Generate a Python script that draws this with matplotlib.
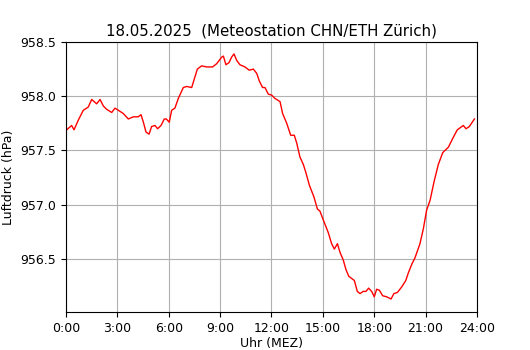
import matplotlib
matplotlib.use("Agg")
import matplotlib.pyplot as plt

# hours since midnight (MEZ) and pressure in hPa
hours = [0.04, 0.33, 0.47, 0.72, 1.01, 1.30, 1.50, 1.79, 1.99, 2.18, 2.37, 2.67,
         2.86, 3.06, 3.35, 3.64, 3.93, 4.22, 4.38, 4.52, 4.67, 4.85, 5.00, 5.20,
         5.35, 5.55, 5.74, 5.86, 6.03, 6.17, 6.36, 6.56, 6.85, 7.05, 7.34, 7.67,
         7.92, 8.21, 8.56, 8.80, 9.09, 9.19, 9.34, 9.52, 9.67, 9.81, 9.97, 10.16,
         10.45, 10.70, 10.94, 11.14, 11.29, 11.48, 11.62, 11.81, 12.01, 12.20,
         12.50, 12.65, 12.89, 13.12, 13.33, 13.47, 13.66, 13.86, 14.00, 14.21,
         14.48, 14.68, 14.83, 15.07, 15.32, 15.51, 15.67, 15.85, 16.00, 16.19,
         16.35, 16.51, 16.84, 17.01, 17.17, 17.36, 17.52, 17.67, 17.85, 18.00,
         18.14, 18.30, 18.49, 18.72, 18.98, 19.15, 19.35, 19.60, 19.84, 19.99,
         20.19, 20.38, 20.67, 20.87, 21.06, 21.26, 21.49, 21.74, 22.00, 22.33,
         22.58, 22.85, 23.11, 23.20, 23.36, 23.55, 23.85]
pressure = [957.69, 957.73, 957.69, 957.78, 957.87, 957.90, 957.97, 957.93, 957.97,
            957.91, 957.88, 957.85, 957.89, 957.87, 957.84, 957.79, 957.81, 957.81,
            957.83, 957.76, 957.67, 957.65, 957.72, 957.73, 957.70, 957.73, 957.79,
            957.79, 957.76, 957.87, 957.89, 957.98, 958.08, 958.09, 958.08, 958.25,
            958.28, 958.27, 958.27, 958.30, 958.36, 958.37, 958.29, 958.31, 958.36,
            958.39, 958.33, 958.29, 958.27, 958.24, 958.25, 958.21, 958.14, 958.08,
            958.08, 958.02, 958.01, 957.98, 957.95, 957.84, 957.75, 957.64, 957.64,
            957.57, 957.44, 957.37, 957.30, 957.18, 957.07, 956.96, 956.94, 956.84,
            956.74, 956.64, 956.59, 956.64, 956.56, 956.49, 956.40, 956.34, 956.30,
            956.20, 956.18, 956.20, 956.20, 956.23, 956.20, 956.15, 956.22, 956.21,
            956.16, 956.15, 956.13, 956.18, 956.19, 956.24, 956.30, 956.37, 956.45,
            956.51, 956.64, 956.78, 956.95, 957.04, 957.21, 957.37, 957.48, 957.53,
            957.61, 957.69, 957.72, 957.73, 957.70, 957.72, 957.79]

xticks = [0, 3, 6, 9, 12, 15, 18, 21, 24]
xticklabels = ["0:00", "3:00", "6:00", "9:00", "12:00", "15:00", "18:00", "21:00", "24:00"]
yticks = [956.5, 957.0, 957.5, 958.0, 958.5]

fig = plt.figure(figsize=(5.3, 3.5), dpi=100)
ax = fig.add_axes([0.1245, 0.1086, 0.7755, 0.7714])

ax.plot(hours, pressure, color="red", linewidth=1)

ax.set_xlim(0, 24)
ax.set_ylim(956.01, 958.5)
ax.set_xticks(xticks)
ax.set_xticklabels(xticklabels)
ax.set_yticks(yticks)
ax.tick_params(labelsize=9)
ax.grid(True)

ax.set_title("18.05.2025  (Meteostation CHN/ETH Zürich)", fontsize=10.8, pad=5)
ax.set_xlabel("Uhr (MEZ)", fontsize=9, labelpad=2)
ax.set_ylabel("Luftdruck (hPa)", fontsize=9)

fig.savefig("out.png", dpi=100)
